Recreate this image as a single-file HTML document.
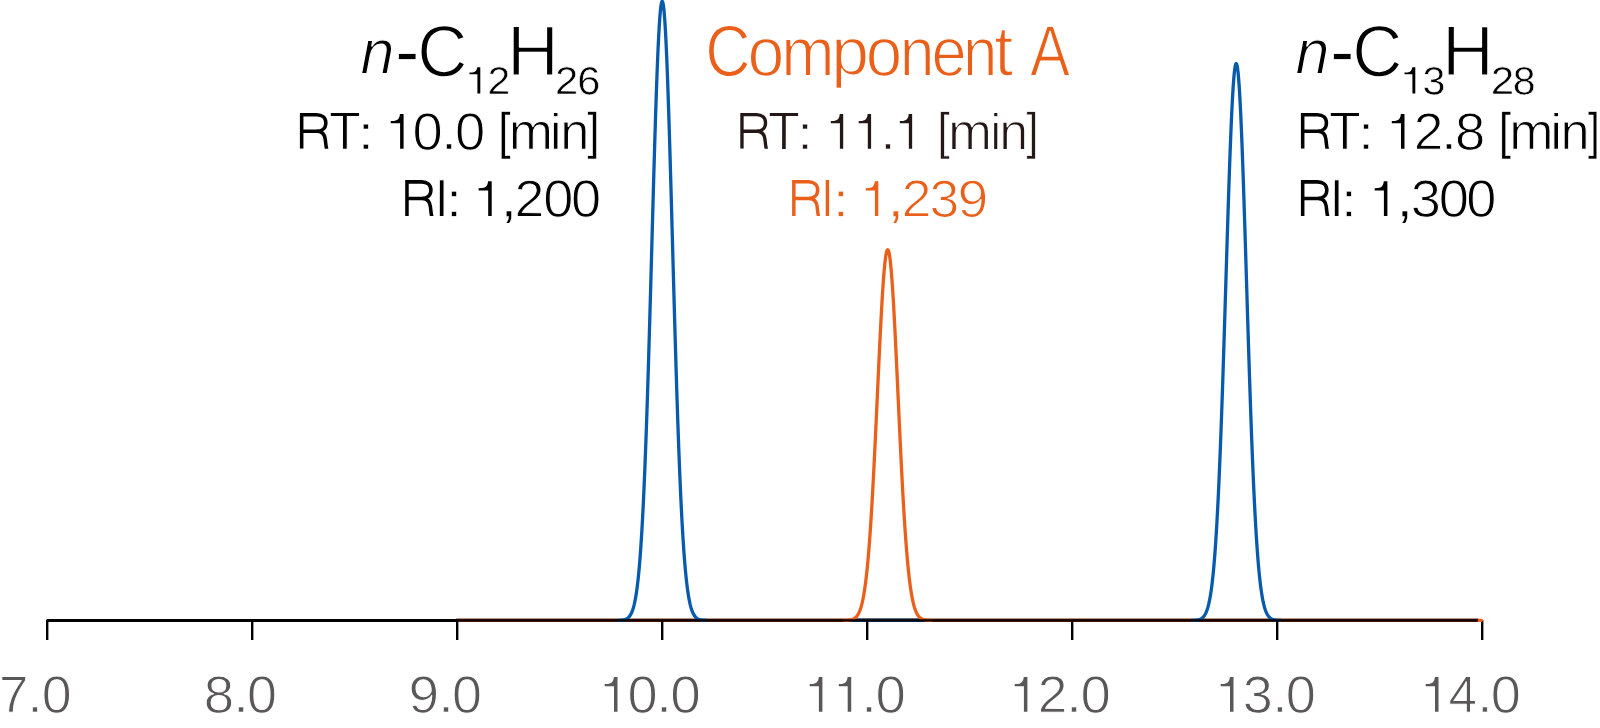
<!DOCTYPE html>
<html><head><meta charset="utf-8"><title>Chromatogram</title>
<style>
html,body{margin:0;padding:0;background:#fff;}
body{width:1600px;height:728px;overflow:hidden;}
svg{display:block;}
text{font-family:"Liberation Sans",sans-serif;stroke-linejoin:round;text-rendering:geometricPrecision;}
</style></head><body>
<svg width="1600" height="728" viewBox="0 0 1600 728">
<rect width="1600" height="728" fill="#fff"/>
<g>
<line x1="456.20" y1="620.3" x2="1478.5" y2="620.3" stroke="#7a2a06" stroke-width="3.5"/>
<line x1="852.20" y1="620.3" x2="923.20" y2="620.3" stroke="#0b3f78" stroke-width="3.5"/>
<path d="M617.20,620.45 L617.70,620.44 L618.20,620.43 L618.70,620.41 L619.20,620.39 L619.70,620.36 L620.20,620.34 L620.70,620.30 L621.20,620.26 L621.70,620.21 L622.20,620.15 L622.70,620.07 L623.20,619.99 L623.70,619.89 L624.20,619.77 L624.70,619.63 L625.20,619.46 L625.70,619.27 L626.20,619.04 L626.70,618.77 L627.20,618.46 L627.70,618.11 L628.20,617.69 L628.70,617.21 L629.20,616.66 L629.70,616.03 L630.20,615.30 L630.70,614.47 L631.20,613.52 L631.70,612.44 L632.20,611.22 L632.70,609.84 L633.20,608.28 L633.70,606.53 L634.20,604.56 L634.70,602.35 L635.20,599.89 L635.70,597.15 L636.20,594.11 L636.70,590.73 L637.20,587.01 L637.70,582.91 L638.20,578.41 L638.70,573.47 L639.20,568.08 L639.70,562.21 L640.20,555.83 L640.70,548.92 L641.20,541.45 L641.70,533.41 L642.20,524.78 L642.70,515.54 L643.20,505.67 L643.70,495.17 L644.20,484.03 L644.70,472.24 L645.20,459.81 L645.70,446.74 L646.20,433.05 L646.70,418.75 L647.20,403.86 L647.70,388.42 L648.20,372.46 L648.70,356.02 L649.20,339.15 L649.70,321.89 L650.20,304.32 L650.70,286.50 L651.20,268.49 L651.70,250.38 L652.20,232.24 L652.70,214.16 L653.20,196.24 L653.70,178.55 L654.20,161.20 L654.70,144.28 L655.20,127.89 L655.70,112.12 L656.20,97.07 L656.70,82.84 L657.20,69.50 L657.70,57.14 L658.20,45.86 L658.70,35.71 L659.20,26.77 L659.70,19.10 L660.20,12.75 L660.70,7.77 L661.20,4.18 L661.70,2.02 L662.20,1.30 L662.70,2.02 L663.20,4.18 L663.70,7.77 L664.20,12.75 L664.70,19.10 L665.20,26.77 L665.70,35.71 L666.20,45.86 L666.70,57.14 L667.20,69.50 L667.70,82.84 L668.20,97.07 L668.70,112.12 L669.20,127.89 L669.70,144.28 L670.20,161.20 L670.70,178.55 L671.20,196.24 L671.70,214.16 L672.20,232.24 L672.70,250.38 L673.20,268.49 L673.70,286.50 L674.20,304.32 L674.70,321.89 L675.20,339.15 L675.70,356.02 L676.20,372.46 L676.70,388.42 L677.20,403.86 L677.70,418.75 L678.20,433.05 L678.70,446.74 L679.20,459.81 L679.70,472.24 L680.20,484.03 L680.70,495.17 L681.20,505.67 L681.70,515.54 L682.20,524.78 L682.70,533.41 L683.20,541.45 L683.70,548.92 L684.20,555.83 L684.70,562.21 L685.20,568.08 L685.70,573.47 L686.20,578.41 L686.70,582.91 L687.20,587.01 L687.70,590.73 L688.20,594.11 L688.70,597.15 L689.20,599.89 L689.70,602.35 L690.20,604.56 L690.70,606.53 L691.20,608.28 L691.70,609.84 L692.20,611.22 L692.70,612.44 L693.20,613.52 L693.70,614.47 L694.20,615.30 L694.70,616.03 L695.20,616.66 L695.70,617.21 L696.20,617.69 L696.70,618.11 L697.20,618.46 L697.70,618.77 L698.20,619.04 L698.70,619.27 L699.20,619.46 L699.70,619.63 L700.20,619.77 L700.70,619.89 L701.20,619.99 L701.70,620.07 L702.20,620.15 L702.70,620.21 L703.20,620.26 L703.70,620.30 L704.20,620.34 L704.70,620.36 L705.20,620.39 L705.70,620.41 L706.20,620.43 L706.70,620.44 L707.20,620.45" fill="none" stroke="#075aad" stroke-width="3.3" stroke-linejoin="round"/>
<path d="M1191.20,620.46 L1191.70,620.45 L1192.20,620.43 L1192.70,620.42 L1193.20,620.40 L1193.70,620.38 L1194.20,620.35 L1194.70,620.32 L1195.20,620.28 L1195.70,620.24 L1196.20,620.18 L1196.70,620.12 L1197.20,620.04 L1197.70,619.95 L1198.20,619.84 L1198.70,619.71 L1199.20,619.57 L1199.70,619.39 L1200.20,619.19 L1200.70,618.95 L1201.20,618.67 L1201.70,618.35 L1202.20,617.97 L1202.70,617.54 L1203.20,617.05 L1203.70,616.48 L1204.20,615.82 L1204.70,615.07 L1205.20,614.22 L1205.70,613.25 L1206.20,612.15 L1206.70,610.91 L1207.20,609.51 L1207.70,607.93 L1208.20,606.16 L1208.70,604.17 L1209.20,601.96 L1209.70,599.49 L1210.20,596.76 L1210.70,593.72 L1211.20,590.38 L1211.70,586.69 L1212.20,582.63 L1212.70,578.19 L1213.20,573.35 L1213.70,568.06 L1214.20,562.32 L1214.70,556.11 L1215.20,549.39 L1215.70,542.16 L1216.20,534.40 L1216.70,526.08 L1217.20,517.21 L1217.70,507.76 L1218.20,497.73 L1218.70,487.13 L1219.20,475.95 L1219.70,464.19 L1220.20,451.88 L1220.70,439.01 L1221.20,425.62 L1221.70,411.73 L1222.20,397.38 L1222.70,382.59 L1223.20,367.41 L1223.70,351.89 L1224.20,336.08 L1224.70,320.05 L1225.20,303.85 L1225.70,287.56 L1226.20,271.24 L1226.70,254.98 L1227.20,238.85 L1227.70,222.94 L1228.20,207.34 L1228.70,192.12 L1229.20,177.37 L1229.70,163.19 L1230.20,149.65 L1230.70,136.85 L1231.20,124.85 L1231.70,113.74 L1232.20,103.58 L1232.70,94.45 L1233.20,86.41 L1233.70,79.51 L1234.20,73.80 L1234.70,69.32 L1235.20,66.09 L1235.70,64.15 L1236.20,63.50 L1236.70,64.15 L1237.20,66.09 L1237.70,69.32 L1238.20,73.80 L1238.70,79.51 L1239.20,86.41 L1239.70,94.45 L1240.20,103.58 L1240.70,113.74 L1241.20,124.85 L1241.70,136.85 L1242.20,149.65 L1242.70,163.19 L1243.20,177.37 L1243.70,192.12 L1244.20,207.34 L1244.70,222.94 L1245.20,238.85 L1245.70,254.98 L1246.20,271.24 L1246.70,287.56 L1247.20,303.85 L1247.70,320.05 L1248.20,336.08 L1248.70,351.89 L1249.20,367.41 L1249.70,382.59 L1250.20,397.38 L1250.70,411.73 L1251.20,425.62 L1251.70,439.01 L1252.20,451.88 L1252.70,464.19 L1253.20,475.95 L1253.70,487.13 L1254.20,497.73 L1254.70,507.76 L1255.20,517.21 L1255.70,526.08 L1256.20,534.40 L1256.70,542.16 L1257.20,549.39 L1257.70,556.11 L1258.20,562.32 L1258.70,568.06 L1259.20,573.35 L1259.70,578.19 L1260.20,582.63 L1260.70,586.69 L1261.20,590.38 L1261.70,593.72 L1262.20,596.76 L1262.70,599.49 L1263.20,601.96 L1263.70,604.17 L1264.20,606.16 L1264.70,607.93 L1265.20,609.51 L1265.70,610.91 L1266.20,612.15 L1266.70,613.25 L1267.20,614.22 L1267.70,615.07 L1268.20,615.82 L1268.70,616.48 L1269.20,617.05 L1269.70,617.54 L1270.20,617.97 L1270.70,618.35 L1271.20,618.67 L1271.70,618.95 L1272.20,619.19 L1272.70,619.39 L1273.20,619.57 L1273.70,619.71 L1274.20,619.84 L1274.70,619.95 L1275.20,620.04 L1275.70,620.12 L1276.20,620.18 L1276.70,620.24 L1277.20,620.28 L1277.70,620.32 L1278.20,620.35 L1278.70,620.38 L1279.20,620.40 L1279.70,620.42 L1280.20,620.43 L1280.70,620.45 L1281.20,620.46" fill="none" stroke="#075aad" stroke-width="3.3" stroke-linejoin="round"/>
<path d="M842.70,620.47 L843.20,620.46 L843.70,620.46 L844.20,620.45 L844.70,620.43 L845.20,620.42 L845.70,620.40 L846.20,620.38 L846.70,620.35 L847.20,620.32 L847.70,620.29 L848.20,620.25 L848.70,620.19 L849.20,620.13 L849.70,620.06 L850.20,619.98 L850.70,619.88 L851.20,619.76 L851.70,619.62 L852.20,619.47 L852.70,619.28 L853.20,619.07 L853.70,618.82 L854.20,618.53 L854.70,618.20 L855.20,617.82 L855.70,617.39 L856.20,616.89 L856.70,616.32 L857.20,615.68 L857.70,614.94 L858.20,614.12 L858.70,613.18 L859.20,612.13 L859.70,610.95 L860.20,609.63 L860.70,608.16 L861.20,606.52 L861.70,604.69 L862.20,602.68 L862.70,600.45 L863.20,597.99 L863.70,595.29 L864.20,592.34 L864.70,589.11 L865.20,585.59 L865.70,581.77 L866.20,577.63 L866.70,573.16 L867.20,568.35 L867.70,563.18 L868.20,557.65 L868.70,551.74 L869.20,545.45 L869.70,538.77 L870.20,531.71 L870.70,524.27 L871.20,516.44 L871.70,508.25 L872.20,499.68 L872.70,490.77 L873.20,481.52 L873.70,471.96 L874.20,462.12 L874.70,452.02 L875.20,441.68 L875.70,431.16 L876.20,420.49 L876.70,409.70 L877.20,398.86 L877.70,388.00 L878.20,377.17 L878.70,366.43 L879.20,355.84 L879.70,345.45 L880.20,335.32 L880.70,325.51 L881.20,316.06 L881.70,307.05 L882.20,298.53 L882.70,290.54 L883.20,283.14 L883.70,276.38 L884.20,270.31 L884.70,264.95 L885.20,260.36 L885.70,256.56 L886.20,253.57 L886.70,251.43 L887.20,250.13 L887.70,249.70 L888.20,250.13 L888.70,251.43 L889.20,253.57 L889.70,256.56 L890.20,260.36 L890.70,264.95 L891.20,270.31 L891.70,276.38 L892.20,283.14 L892.70,290.54 L893.20,298.53 L893.70,307.05 L894.20,316.06 L894.70,325.51 L895.20,335.32 L895.70,345.45 L896.20,355.84 L896.70,366.43 L897.20,377.17 L897.70,388.00 L898.20,398.86 L898.70,409.70 L899.20,420.49 L899.70,431.16 L900.20,441.68 L900.70,452.02 L901.20,462.12 L901.70,471.96 L902.20,481.52 L902.70,490.77 L903.20,499.68 L903.70,508.25 L904.20,516.44 L904.70,524.27 L905.20,531.71 L905.70,538.77 L906.20,545.45 L906.70,551.74 L907.20,557.65 L907.70,563.18 L908.20,568.35 L908.70,573.16 L909.20,577.63 L909.70,581.77 L910.20,585.59 L910.70,589.11 L911.20,592.34 L911.70,595.29 L912.20,597.99 L912.70,600.45 L913.20,602.68 L913.70,604.69 L914.20,606.52 L914.70,608.16 L915.20,609.63 L915.70,610.95 L916.20,612.13 L916.70,613.18 L917.20,614.12 L917.70,614.94 L918.20,615.68 L918.70,616.32 L919.20,616.89 L919.70,617.39 L920.20,617.82 L920.70,618.20 L921.20,618.53 L921.70,618.82 L922.20,619.07 L922.70,619.28 L923.20,619.47 L923.70,619.62 L924.20,619.76 L924.70,619.88 L925.20,619.98 L925.70,620.06 L926.20,620.13 L926.70,620.19 L927.20,620.25 L927.70,620.29 L928.20,620.32 L928.70,620.35 L929.20,620.38 L929.70,620.40 L930.20,620.42 L930.70,620.43 L931.20,620.45 L931.70,620.46 L932.20,620.46 L932.70,620.47" fill="none" stroke="#ea601a" stroke-width="3.3" stroke-linejoin="round"/>
<circle cx="47.50" cy="620.5" r="1.5" fill="#000"/>
<line x1="47.50" y1="620.5" x2="457.70" y2="620.5" stroke="#000" stroke-width="3"/>
<line x1="456.20" y1="620.35" x2="1478.5" y2="620.35" stroke="#0a0200" stroke-width="2.1"/>
<line x1="47.20" y1="620.5" x2="47.20" y2="640" stroke="#000" stroke-width="2.4"/>
<line x1="252.20" y1="620.5" x2="252.20" y2="640" stroke="#000" stroke-width="2.4"/>
<line x1="457.20" y1="620.5" x2="457.20" y2="640" stroke="#000" stroke-width="2.4"/>
<line x1="662.20" y1="620.5" x2="662.20" y2="640" stroke="#000" stroke-width="2.4"/>
<line x1="867.20" y1="620.5" x2="867.20" y2="640" stroke="#000" stroke-width="2.4"/>
<line x1="1072.20" y1="620.5" x2="1072.20" y2="640" stroke="#000" stroke-width="2.4"/>
<line x1="1277.20" y1="620.5" x2="1277.20" y2="640" stroke="#000" stroke-width="2.4"/>
<line x1="1482.20" y1="620.5" x2="1482.20" y2="640" stroke="#000" stroke-width="2.4"/>
<path d="M1477.8,618.7 L1481.5,618.7 L1483.8,620.2 L1481.8,621.9 L1477.8,621.9 Z" fill="#ea601a"/>
</g>
<g style="opacity:0.999">
<clipPath id="r1"><rect x="297.90" y="110.90" width="32.70" height="37.90"/></clipPath>
<g clip-path="url(#r1)" fill="none" stroke="#000000" stroke-width="3.55" stroke-linejoin="miter"><path d="M301.67,112.90 L301.67,148.80"/><path d="M301.67,114.68 L316.50,114.68 C322.30,114.68 325.83,117.80 325.83,122.90 C325.83,128.00 322.30,131.25 316.50,131.25 L301.67,131.25"/><path d="M317.40,131.25 C322.50,131.35 324.60,133.90 325.25,139.20 C325.65,142.90 325.90,146.20 326.58,148.80 L326.93,150.50"/></g>
<text transform="translate(329.03,149.30) scale(0.96945,1.00000) rotate(0.03)" font-size="53.6" fill="#000000" stroke="#fff" stroke-width="1.00">T</text>
<text transform="translate(358.77,148.98) scale(1.08295,1.00000) rotate(0.03)" font-size="47.0" fill="#000000" stroke="#fff" stroke-width="0.35">:</text>
<path d="M403.60,148.80 L403.60,114.10 L399.95,114.10 C399.75,118.26 397.47,120.69 394.27,120.90 L390.70,120.97 L390.70,123.19 L400.10,123.19 L400.10,148.80 Z" fill="#000000"/>
<text transform="translate(412.58,149.64) scale(1.03518,1.00000) rotate(0.03)" font-size="52.5" fill="#000000" stroke="#fff" stroke-width="1.00">0</text>
<text transform="translate(442.17,148.98) scale(1.03412,1.00000) rotate(0.03)" font-size="47.2" fill="#000000" stroke="#fff" stroke-width="0.35">.</text>
<text transform="translate(454.88,149.64) scale(1.03518,1.00000) rotate(0.03)" font-size="52.5" fill="#000000" stroke="#fff" stroke-width="1.00">0</text>
<text transform="translate(498.24,148.49) scale(0.87448,1.00000) rotate(0.03)" font-size="50.6" fill="#000000" stroke="#fff" stroke-width="0.40">[</text>
<text transform="translate(508.77,149.30) scale(1.02761,1.00000) rotate(0.03)" font-size="51.7" fill="#000000" stroke="#fff" stroke-width="1.00">m</text>
<text transform="translate(549.82,149.30) scale(1.05011,1.00000) rotate(0.03)" font-size="50.9" fill="#000000" stroke="#fff" stroke-width="1.00">i</text>
<text transform="translate(560.13,149.30) scale(1.01151,1.00000) rotate(0.03)" font-size="51.7" fill="#000000" stroke="#fff" stroke-width="1.00">n</text>
<text transform="translate(587.57,148.49) scale(0.84467,1.00000) rotate(0.03)" font-size="50.6" fill="#000000" stroke="#fff" stroke-width="0.40">]</text>
<clipPath id="r2"><rect x="738.30" y="110.90" width="31.90" height="37.90"/></clipPath>
<g clip-path="url(#r2)" fill="none" stroke="#231815" stroke-width="3.3499999999999996" stroke-linejoin="miter"><path d="M741.97,112.90 L741.97,148.80"/><path d="M741.97,114.58 L756.44,114.58 C762.08,114.58 765.55,117.80 765.55,122.90 C765.55,128.00 762.08,131.25 756.44,131.25 L741.97,131.25"/><path d="M757.31,131.25 C762.27,131.35 764.31,133.90 764.94,139.20 C765.33,142.90 765.58,146.20 766.28,148.80 L766.62,150.50"/></g>
<text transform="translate(768.00,149.38) scale(0.96880,1.00000) rotate(0.03)" font-size="53.9" fill="#231815" stroke="#fff" stroke-width="1.15">T</text>
<text transform="translate(798.22,148.98) scale(1.03829,1.00000) rotate(0.03)" font-size="47.0" fill="#231815" stroke="#fff" stroke-width="0.35">:</text>
<path d="M843.20,148.80 L843.20,114.10 L839.75,114.10 C839.55,118.26 837.35,120.69 834.26,120.90 L830.80,120.97 L830.80,123.19 L839.90,123.19 L839.90,148.80 Z" fill="#231815"/>
<path d="M871.10,148.80 L871.10,114.10 L867.65,114.10 C867.45,118.26 865.25,120.69 862.16,120.90 L858.70,120.97 L858.70,123.19 L867.80,123.19 L867.80,148.80 Z" fill="#231815"/>
<text transform="translate(881.46,148.98) scale(0.98964,1.00000) rotate(0.03)" font-size="47.2" fill="#231815" stroke="#fff" stroke-width="0.35">.</text>
<path d="M912.15,148.80 L912.15,114.10 L908.70,114.10 C908.50,118.26 906.32,120.69 903.24,120.90 L899.80,120.97 L899.80,123.19 L908.85,123.19 L908.85,148.80 Z" fill="#231815"/>
<text transform="translate(937.52,148.53) scale(0.85686,1.00000) rotate(0.03)" font-size="50.8" fill="#231815" stroke="#fff" stroke-width="0.55">[</text>
<text transform="translate(947.91,149.38) scale(1.01797,1.00000) rotate(0.03)" font-size="51.9" fill="#231815" stroke="#fff" stroke-width="1.15">m</text>
<text transform="translate(990.21,149.38) scale(0.96797,1.00000) rotate(0.03)" font-size="51.1" fill="#231815" stroke="#fff" stroke-width="1.15">i</text>
<text transform="translate(999.17,149.38) scale(1.00155,1.00000) rotate(0.03)" font-size="51.9" fill="#231815" stroke="#fff" stroke-width="1.15">n</text>
<text transform="translate(1026.59,148.53) scale(0.83704,1.00000) rotate(0.03)" font-size="50.8" fill="#231815" stroke="#fff" stroke-width="0.55">]</text>
<clipPath id="r3"><rect x="1298.90" y="110.90" width="32.30" height="37.90"/></clipPath>
<g clip-path="url(#r3)" fill="none" stroke="#000000" stroke-width="3.55" stroke-linejoin="miter"><path d="M1302.68,112.90 L1302.68,148.80"/><path d="M1302.68,114.68 L1317.27,114.68 C1322.99,114.68 1326.44,117.80 1326.44,122.90 C1326.44,128.00 1322.99,131.25 1317.27,131.25 L1302.68,131.25"/><path d="M1318.16,131.25 C1323.19,131.35 1325.26,133.90 1325.90,139.20 C1326.29,142.90 1326.54,146.20 1327.18,148.80 L1327.52,150.50"/></g>
<text transform="translate(1329.08,149.30) scale(0.96780,1.00000) rotate(0.03)" font-size="53.6" fill="#000000" stroke="#fff" stroke-width="1.00">T</text>
<text transform="translate(1359.22,148.98) scale(1.03829,1.00000) rotate(0.03)" font-size="47.0" fill="#000000" stroke="#fff" stroke-width="0.35">:</text>
<path d="M1404.50,148.80 L1404.50,114.10 L1400.85,114.10 C1400.65,118.26 1398.42,120.69 1395.30,120.90 L1391.80,120.97 L1391.80,123.19 L1401.00,123.19 L1401.00,148.80 Z" fill="#000000"/>
<text transform="translate(1413.63,149.30) scale(1.02039,1.00000) rotate(0.03)" font-size="52.1" fill="#000000" stroke="#fff" stroke-width="1.00">2</text>
<text transform="translate(1442.07,148.98) scale(1.05636,1.00000) rotate(0.03)" font-size="47.2" fill="#000000" stroke="#fff" stroke-width="0.35">.</text>
<text transform="translate(1454.93,149.64) scale(1.03632,1.00000) rotate(0.03)" font-size="52.5" fill="#000000" stroke="#fff" stroke-width="1.00">8</text>
<text transform="translate(1498.64,148.49) scale(0.87448,1.00000) rotate(0.03)" font-size="50.6" fill="#000000" stroke="#fff" stroke-width="0.40">[</text>
<text transform="translate(1509.17,149.30) scale(1.02761,1.00000) rotate(0.03)" font-size="51.7" fill="#000000" stroke="#fff" stroke-width="1.00">m</text>
<text transform="translate(1550.22,149.30) scale(1.05011,1.00000) rotate(0.03)" font-size="50.9" fill="#000000" stroke="#fff" stroke-width="1.00">i</text>
<text transform="translate(1560.53,149.30) scale(1.01151,1.00000) rotate(0.03)" font-size="51.7" fill="#000000" stroke="#fff" stroke-width="1.00">n</text>
<text transform="translate(1587.97,148.49) scale(0.84467,1.00000) rotate(0.03)" font-size="50.6" fill="#000000" stroke="#fff" stroke-width="0.40">]</text>
<clipPath id="r4"><rect x="403.20" y="178.10" width="32.50" height="37.90"/></clipPath>
<g clip-path="url(#r4)" fill="none" stroke="#000000" stroke-width="3.55" stroke-linejoin="miter"><path d="M406.97,180.10 L406.97,216.00"/><path d="M406.97,181.88 L421.68,181.88 C427.44,181.88 430.93,185.00 430.93,190.10 C430.93,195.20 427.44,198.45 421.68,198.45 L406.97,198.45"/><path d="M422.58,198.45 C427.64,198.55 429.73,201.10 430.37,206.40 C430.77,210.10 431.02,213.40 431.68,216.00 L432.02,217.70"/></g>
<text transform="translate(434.55,216.50) scale(0.95960,1.00000) rotate(0.03)" font-size="53.6" fill="#000000" stroke="#fff" stroke-width="1.00">I</text>
<text transform="translate(447.27,216.18) scale(1.03829,1.00000) rotate(0.03)" font-size="47.0" fill="#000000" stroke="#fff" stroke-width="0.35">:</text>
<path d="M491.70,216.00 L491.70,181.30 L488.05,181.30 C487.85,185.46 485.51,187.89 482.25,188.10 L478.60,188.17 L478.60,190.39 L488.20,190.39 L488.20,216.00 Z" fill="#000000"/>
<text transform="translate(501.13,216.46) scale(1.05372,1.00000) rotate(0.03)" font-size="51.7" fill="#000000" stroke="#fff" stroke-width="0.35">,</text>
<text transform="translate(514.51,216.50) scale(1.02882,1.00000) rotate(0.03)" font-size="52.1" fill="#000000" stroke="#fff" stroke-width="1.00">2</text>
<text transform="translate(543.18,216.84) scale(1.03120,1.00000) rotate(0.03)" font-size="52.5" fill="#000000" stroke="#fff" stroke-width="1.00">0</text>
<text transform="translate(570.98,216.84) scale(1.03120,1.00000) rotate(0.03)" font-size="52.5" fill="#000000" stroke="#fff" stroke-width="1.00">0</text>
<clipPath id="r5"><rect x="790.10" y="178.10" width="32.30" height="37.90"/></clipPath>
<g clip-path="url(#r5)" fill="none" stroke="#ea601a" stroke-width="3.4499999999999997" stroke-linejoin="miter"><path d="M793.83,180.10 L793.83,216.00"/><path d="M793.83,181.82 L808.47,181.82 C814.19,181.82 817.69,185.00 817.69,190.10 C817.69,195.20 814.19,198.45 808.47,198.45 L793.83,198.45"/><path d="M809.36,198.45 C814.39,198.55 816.46,201.10 817.10,206.40 C817.49,210.10 817.74,213.40 818.43,216.00 L818.77,217.70"/></g>
<text transform="translate(820.52,216.58) scale(0.92585,1.00000) rotate(0.03)" font-size="53.9" fill="#ea601a" stroke="#fff" stroke-width="1.15">I</text>
<text transform="translate(834.07,216.18) scale(1.04946,1.00000) rotate(0.03)" font-size="47.0" fill="#ea601a" stroke="#fff" stroke-width="0.35">:</text>
<path d="M878.30,216.00 L878.30,181.30 L874.75,181.30 C874.55,185.46 872.32,187.89 869.20,188.10 L865.70,188.17 L865.70,190.39 L874.90,190.39 L874.90,216.00 Z" fill="#ea601a"/>
<text transform="translate(888.04,216.46) scale(1.07342,1.00000) rotate(0.03)" font-size="51.7" fill="#ea601a" stroke="#fff" stroke-width="0.35">,</text>
<text transform="translate(901.46,216.57) scale(1.03299,1.00000) rotate(0.03)" font-size="52.3" fill="#ea601a" stroke="#fff" stroke-width="1.15">2</text>
<text transform="translate(929.59,216.91) scale(1.01153,1.00000) rotate(0.03)" font-size="52.8" fill="#ea601a" stroke="#fff" stroke-width="1.15">3</text>
<text transform="translate(957.48,216.91) scale(1.04852,1.00000) rotate(0.03)" font-size="52.8" fill="#ea601a" stroke="#fff" stroke-width="1.15">9</text>
<clipPath id="r6"><rect x="1298.90" y="178.10" width="32.70" height="37.90"/></clipPath>
<g clip-path="url(#r6)" fill="none" stroke="#000000" stroke-width="3.55" stroke-linejoin="miter"><path d="M1302.68,180.10 L1302.68,216.00"/><path d="M1302.68,181.88 L1317.50,181.88 C1323.30,181.88 1326.82,185.00 1326.82,190.10 C1326.82,195.20 1323.30,198.45 1317.50,198.45 L1302.68,198.45"/><path d="M1318.40,198.45 C1323.50,198.55 1325.60,201.10 1326.25,206.40 C1326.65,210.10 1326.90,213.40 1327.57,216.00 L1327.92,217.70"/></g>
<text transform="translate(1329.45,216.50) scale(0.95960,1.00000) rotate(0.03)" font-size="53.6" fill="#000000" stroke="#fff" stroke-width="1.00">I</text>
<text transform="translate(1342.12,216.18) scale(1.04946,1.00000) rotate(0.03)" font-size="47.0" fill="#000000" stroke="#fff" stroke-width="0.35">:</text>
<path d="M1387.40,216.00 L1387.40,181.30 L1383.75,181.30 C1383.55,185.46 1381.32,187.89 1378.20,188.10 L1374.70,188.17 L1374.70,190.39 L1383.90,190.39 L1383.90,216.00 Z" fill="#000000"/>
<text transform="translate(1397.04,216.46) scale(1.07342,1.00000) rotate(0.03)" font-size="51.7" fill="#000000" stroke="#fff" stroke-width="0.35">,</text>
<text transform="translate(1410.64,216.84) scale(1.03167,1.00000) rotate(0.03)" font-size="52.5" fill="#000000" stroke="#fff" stroke-width="1.00">3</text>
<text transform="translate(1438.68,216.84) scale(1.03518,1.00000) rotate(0.03)" font-size="52.5" fill="#000000" stroke="#fff" stroke-width="1.00">0</text>
<text transform="translate(1466.28,216.84) scale(1.03120,1.00000) rotate(0.03)" font-size="52.5" fill="#000000" stroke="#fff" stroke-width="1.00">0</text>
<text transform="translate(360.49,73.60) scale(0.97173,1.00000) rotate(0.03)" font-size="62.7" fill="#000000" stroke="#fff" stroke-width="1.20" font-style="italic">n</text>
<text transform="translate(395.55,75.54) scale(0.98857,1.00000) rotate(0.03)" font-size="71.7" fill="#000000" stroke="#fff" stroke-width="0.60">-</text>
<text transform="translate(417.22,76.14) scale(0.95330,1.00000) rotate(0.03)" font-size="72.9" fill="#000000" stroke="#fff" stroke-width="1.50">C</text>
<text transform="translate(507.06,75.25) scale(1.01000,1.00000) rotate(0.03)" font-size="71.1" fill="#000000" stroke="#fff" stroke-width="1.50">H</text>
<path d="M480.30,93.60 L480.30,67.30 L477.25,67.30 C477.05,70.46 475.19,72.30 472.50,72.45 L469.50,72.51 L469.50,74.19 L477.40,74.19 L477.40,93.60 Z" fill="#000000"/>
<text transform="translate(487.47,93.88) scale(1.05284,1.00000) rotate(0.03)" font-size="38.9" fill="#000000" stroke="#fff" stroke-width="0.55">2</text>
<text transform="translate(555.02,93.88) scale(1.07542,1.00000) rotate(0.03)" font-size="38.9" fill="#000000" stroke="#fff" stroke-width="0.55">2</text>
<text transform="translate(577.31,94.39) scale(1.05301,1.00000) rotate(0.03)" font-size="39.6" fill="#000000" stroke="#fff" stroke-width="0.55">6</text>
<text transform="translate(1295.49,73.60) scale(0.97173,1.00000) rotate(0.03)" font-size="62.7" fill="#000000" stroke="#fff" stroke-width="1.20" font-style="italic">n</text>
<text transform="translate(1330.55,75.54) scale(0.98857,1.00000) rotate(0.03)" font-size="71.7" fill="#000000" stroke="#fff" stroke-width="0.60">-</text>
<text transform="translate(1352.22,76.14) scale(0.95330,1.00000) rotate(0.03)" font-size="72.9" fill="#000000" stroke="#fff" stroke-width="1.50">C</text>
<text transform="translate(1442.06,75.25) scale(1.01000,1.00000) rotate(0.03)" font-size="71.1" fill="#000000" stroke="#fff" stroke-width="1.50">H</text>
<path d="M1415.30,93.60 L1415.30,67.30 L1412.25,67.30 C1412.05,70.46 1410.19,72.30 1407.50,72.45 L1404.50,72.51 L1404.50,74.19 L1412.40,74.19 L1412.40,93.60 Z" fill="#000000"/>
<text transform="translate(1422.45,94.39) scale(1.04079,1.00000) rotate(0.03)" font-size="39.6" fill="#000000" stroke="#fff" stroke-width="0.55">3</text>
<text transform="translate(1490.71,93.88) scale(1.08389,1.00000) rotate(0.03)" font-size="38.9" fill="#000000" stroke="#fff" stroke-width="0.55">2</text>
<text transform="translate(1512.64,94.39) scale(1.03548,1.00000) rotate(0.03)" font-size="39.6" fill="#000000" stroke="#fff" stroke-width="0.55">8</text>
<text transform="translate(705.37,75.99) scale(0.86014,1.00000) rotate(0.03)" font-size="72.9" fill="#ea601a" stroke="#fff" stroke-width="1.50">C</text>
<text transform="translate(747.58,75.87) scale(0.95266,1.00000) rotate(0.03)" font-size="69.4" fill="#ea601a" stroke="#fff" stroke-width="1.50">o</text>
<text transform="translate(781.29,75.65) scale(0.92940,1.00000) rotate(0.03)" font-size="68.9" fill="#ea601a" stroke="#fff" stroke-width="1.50">m</text>
<text transform="translate(831.28,74.55) scale(1.01273,1.00000) rotate(0.03)" font-size="67.0" fill="#ea601a" stroke="#fff" stroke-width="1.50">p</text>
<text transform="translate(865.80,75.87) scale(0.94350,1.00000) rotate(0.03)" font-size="69.4" fill="#ea601a" stroke="#fff" stroke-width="1.50">o</text>
<text transform="translate(899.79,75.65) scale(0.90818,1.00000) rotate(0.03)" font-size="68.9" fill="#ea601a" stroke="#fff" stroke-width="1.50">n</text>
<text transform="translate(931.47,75.87) scale(0.90945,1.00000) rotate(0.03)" font-size="69.4" fill="#ea601a" stroke="#fff" stroke-width="1.50">e</text>
<text transform="translate(962.94,75.65) scale(0.89793,1.00000) rotate(0.03)" font-size="68.9" fill="#ea601a" stroke="#fff" stroke-width="1.50">n</text>
<text transform="translate(994.37,75.49) scale(0.95943,1.00000) rotate(0.03)" font-size="71.2" fill="#ea601a" stroke="#fff" stroke-width="1.50">t</text>
<text transform="translate(1029.93,75.65) scale(0.83633,1.00000) rotate(0.03)" font-size="71.9" fill="#ea601a" stroke="#fff" stroke-width="1.50">A</text>
<text transform="translate(-1.11,712.30) scale(1.01743,1.00000) rotate(0.03)" font-size="51.9" fill="#595757" stroke="#fff" stroke-width="1.00">7</text>
<text transform="translate(28.46,711.97) scale(0.98964,1.00000) rotate(0.03)" font-size="47.2" fill="#595757" stroke="#fff" stroke-width="0.35">.</text>
<text transform="translate(41.80,712.64) scale(1.02324,1.00000) rotate(0.03)" font-size="52.5" fill="#595757" stroke="#fff" stroke-width="1.00">0</text>
<text transform="translate(203.83,712.64) scale(1.03834,1.00000) rotate(0.03)" font-size="52.5" fill="#595757" stroke="#fff" stroke-width="1.00">8</text>
<text transform="translate(234.17,711.97) scale(1.03412,1.00000) rotate(0.03)" font-size="47.2" fill="#595757" stroke="#fff" stroke-width="0.35">.</text>
<text transform="translate(246.95,712.64) scale(1.02523,1.00000) rotate(0.03)" font-size="52.5" fill="#595757" stroke="#fff" stroke-width="1.00">0</text>
<text transform="translate(408.42,712.64) scale(1.04657,1.00000) rotate(0.03)" font-size="52.5" fill="#595757" stroke="#fff" stroke-width="1.00">9</text>
<text transform="translate(439.17,711.97) scale(1.03412,1.00000) rotate(0.03)" font-size="47.2" fill="#595757" stroke="#fff" stroke-width="0.35">.</text>
<text transform="translate(451.95,712.64) scale(1.02523,1.00000) rotate(0.03)" font-size="52.5" fill="#595757" stroke="#fff" stroke-width="1.00">0</text>
<path d="M617.50,711.80 L617.50,677.10 L613.85,677.10 C613.65,681.26 611.40,683.69 608.23,683.90 L604.70,683.97 L604.70,686.19 L614.00,686.19 L614.00,711.80 Z" fill="#595757"/>
<text transform="translate(627.58,712.64) scale(1.03319,1.00000) rotate(0.03)" font-size="52.5" fill="#595757" stroke="#fff" stroke-width="1.00">0</text>
<text transform="translate(657.17,711.97) scale(1.03412,1.00000) rotate(0.03)" font-size="47.2" fill="#595757" stroke="#fff" stroke-width="0.35">.</text>
<text transform="translate(670.25,712.64) scale(1.04712,1.00000) rotate(0.03)" font-size="52.5" fill="#595757" stroke="#fff" stroke-width="1.00">0</text>
<path d="M822.40,711.80 L822.40,677.10 L818.75,677.10 C818.55,681.26 816.32,683.69 813.20,683.90 L809.70,683.97 L809.70,686.19 L818.90,686.19 L818.90,711.80 Z" fill="#595757"/>
<path d="M851.20,711.80 L851.20,677.10 L847.55,677.10 C847.35,681.26 845.22,683.69 842.21,683.90 L838.85,683.97 L838.85,686.19 L847.70,686.19 L847.70,711.80 Z" fill="#595757"/>
<text transform="translate(862.17,711.97) scale(1.03412,1.00000) rotate(0.03)" font-size="47.2" fill="#595757" stroke="#fff" stroke-width="0.35">.</text>
<text transform="translate(875.47,712.64) scale(1.03916,1.00000) rotate(0.03)" font-size="52.5" fill="#595757" stroke="#fff" stroke-width="1.00">0</text>
<path d="M1027.40,711.80 L1027.40,677.10 L1023.75,677.10 C1023.55,681.26 1021.32,683.69 1018.20,683.90 L1014.70,683.97 L1014.70,686.19 L1023.90,686.19 L1023.90,711.80 Z" fill="#595757"/>
<text transform="translate(1037.63,712.30) scale(1.02039,1.00000) rotate(0.03)" font-size="52.1" fill="#595757" stroke="#fff" stroke-width="1.00">2</text>
<text transform="translate(1067.17,711.97) scale(1.03412,1.00000) rotate(0.03)" font-size="47.2" fill="#595757" stroke="#fff" stroke-width="0.35">.</text>
<text transform="translate(1080.47,712.64) scale(1.03916,1.00000) rotate(0.03)" font-size="52.5" fill="#595757" stroke="#fff" stroke-width="1.00">0</text>
<path d="M1233.50,711.80 L1233.50,677.10 L1229.85,677.10 C1229.65,681.26 1227.40,683.69 1224.23,683.90 L1220.70,683.97 L1220.70,686.19 L1230.00,686.19 L1230.00,711.80 Z" fill="#595757"/>
<text transform="translate(1242.64,712.64) scale(1.02765,1.00000) rotate(0.03)" font-size="52.5" fill="#595757" stroke="#fff" stroke-width="1.00">3</text>
<text transform="translate(1273.36,711.97) scale(1.01188,1.00000) rotate(0.03)" font-size="47.2" fill="#595757" stroke="#fff" stroke-width="0.35">.</text>
<text transform="translate(1285.68,712.64) scale(1.03120,1.00000) rotate(0.03)" font-size="52.5" fill="#595757" stroke="#fff" stroke-width="1.00">0</text>
<path d="M1438.50,711.80 L1438.50,677.10 L1434.85,677.10 C1434.65,681.26 1432.40,683.69 1429.23,683.90 L1425.70,683.97 L1425.70,686.19 L1435.00,686.19 L1435.00,711.80 Z" fill="#595757"/>
<text transform="translate(1448.52,712.30) scale(0.98669,1.00000) rotate(0.03)" font-size="51.9" fill="#595757" stroke="#fff" stroke-width="1.00">4</text>
<text transform="translate(1478.36,711.97) scale(1.01188,1.00000) rotate(0.03)" font-size="47.2" fill="#595757" stroke="#fff" stroke-width="0.35">.</text>
<text transform="translate(1490.68,712.64) scale(1.03120,1.00000) rotate(0.03)" font-size="52.5" fill="#595757" stroke="#fff" stroke-width="1.00">0</text>
</g>
</svg>
</body></html>
